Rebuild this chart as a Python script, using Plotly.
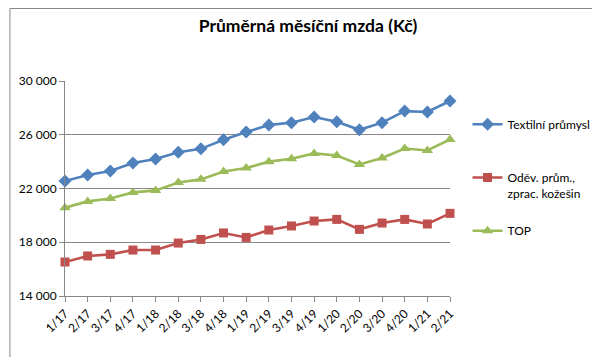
import plotly.graph_objects as go

categories = ["1/17", "2/17", "3/17", "4/17", "1/18", "2/18", "3/18", "4/18",
              "1/19", "2/19", "3/19", "4/19", "1/20", "2/20", "3/20", "4/20",
              "1/21", "2/21"]

textilni = [22560, 23000, 23300, 23900, 24200, 24700, 24950, 25630,
            26200, 26720, 26900, 27320, 26970, 26370, 26900, 27760,
            27690, 28510]

odev = [16530, 16980, 17100, 17420, 17420, 17940, 18210, 18690,
        18360, 18910, 19210, 19580, 19700, 18960, 19430, 19700,
        19360, 20150]

top = [20570, 21040, 21260, 21710, 21860, 22450, 22680, 23270,
       23520, 24000, 24210, 24610, 24460, 23790, 24270, 24980,
       24830, 25650]

series_names = ["Textilní průmysl<br>\u00a0", "Oděv. prům.,<br>zprac. kožešin", "TOP<br>\u00a0"]
y_ticks = [14000, 18000, 22000, 26000, 30000]

FONT = "Lato"
GRID = "#878787"

fig = go.Figure()
fig.add_trace(go.Scatter(
    x=categories, y=textilni, name=series_names[0], mode="lines+markers",
    line=dict(color="#4F81BD", width=2.6),
    marker=dict(symbol="diamond", size=10, color="#4F81BD"),
    cliponaxis=False, legendgroup="a"))
fig.add_trace(go.Scatter(
    x=categories, y=odev, name=series_names[1], mode="lines+markers",
    line=dict(color="#C0504D", width=2.6),
    marker=dict(symbol="square", size=9, color="#C0504D"),
    cliponaxis=False, legendgroup="b"))
fig.add_trace(go.Scatter(
    x=categories, y=top, name=series_names[2], mode="lines+markers",
    line=dict(color="#9BBB59", width=2.6),
    marker=dict(symbol="triangle-up", size=10, color="#9BBB59"),
    cliponaxis=False, legendgroup="c"))

W, H = 600, 357
L, R, T, B = 57, 148, 73, 69
pw, ph = W - L - R, H - T - B

fig.update_layout(
    width=W, height=H,
    margin=dict(l=L, r=R, t=T, b=B, pad=0),
    paper_bgcolor="white", plot_bgcolor="white",
    separators=", ",
    font=dict(family=FONT, size=12, color="#000000"),
    title=dict(text="<b>Průměrná měsíční mzda (Kč)</b>",
               font=dict(family=FONT, size=17.5, color="#000000"),
               x=0.5, xanchor="center", xref="container",
               y=1 - 18 / H, yanchor="middle", yref="container"),
    xaxis=dict(type="category", range=[0, len(categories) - 1],
               showgrid=False, showline=True, linecolor=GRID, linewidth=1,
               ticks="outside", ticklen=5, tickcolor=GRID, tickwidth=1,
               tickangle=-45, tickfont=dict(family=FONT, size=12),
               zeroline=False, fixedrange=True),
    yaxis=dict(range=[14000, 30000], tickvals=y_ticks, tickformat=",d",
               showgrid=True, gridcolor=GRID, gridwidth=1,
               showline=True, linecolor=GRID, linewidth=1,
               ticks="outside", ticklen=5, tickcolor=GRID, tickwidth=1,
               tickfont=dict(family=FONT, size=12),
               zeroline=False, fixedrange=True),
    legend=dict(x=(470 - L) / pw, xanchor="left",
                y=(H - B - 102) / ph, yanchor="top",
                font=dict(family=FONT, size=12),
                tracegroupgap=19, valign="top",
                bgcolor="rgba(0,0,0,0)", borderwidth=0),
    showlegend=True,
)

# outer chart border
fig.add_shape(type="rect", xref="paper", yref="paper",
              x0=(0.5 - L) / pw, x1=1 + (R - 1.5) / pw,
              y0=-(B - 1.5) / ph, y1=1 + (T - 0.5) / ph,
              line=dict(color="#878787", width=1), layer="above")

fig.write_html("out.html")
